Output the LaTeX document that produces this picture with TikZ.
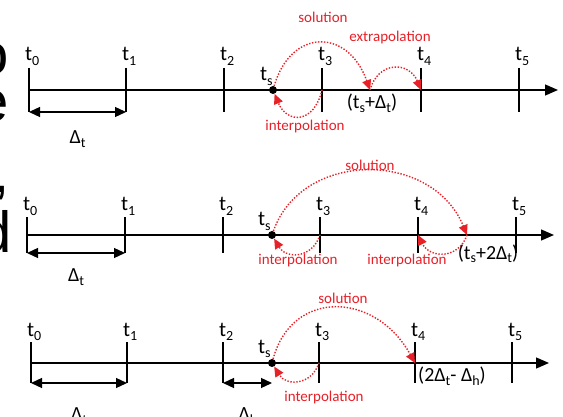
\documentclass[tikz,border=0pt]{standalone}
\usepackage{fontspec}
\setmainfont{Carlito}
\newfontfamily\bigsans{Liberation Sans}
\usetikzlibrary{arrows.meta,calc}
\definecolor{rd}{RGB}{232,32,40}
\newcommand\subx[1]{\raisebox{-0.2em}{\fontsize{14}{14}\selectfont #1}}
\begin{document}
\begin{tikzpicture}[x=1pt,y=-1pt,
  axis/.style={line width=1.3pt,-{Triangle[length=13pt,width=11pt]}},
  tickln/.style={line width=1.3pt},
  dim/.style={line width=1.3pt,{Triangle[length=11pt,width=10pt]}-{Triangle[length=11pt,width=10pt]}},
  tlbl/.style={font=\fontsize{21}{24}\selectfont, inner sep=0, anchor=base west},
  blbl/.style={font=\fontsize{20}{24}\selectfont, inner sep=0, anchor=base},
  rlbl/.style={font=\fontsize{15}{18}\selectfont, text=rd, inner sep=0},
  rarc/.style={rd, line width=1.4pt, dash pattern=on 1.4pt off 1.6pt, -{Triangle[length=10pt,width=9pt]}},
  tsdot/.style={circle, fill=black, inner sep=0, minimum size=8pt},
  frag/.style={font=\bigsans\fontsize{58}{58}\selectfont, inner sep=0, anchor=base east,
    text height=0.55em, text depth=0pt}]
\useasboundingbox (0,0) rectangle (563,417);
\clip (0,0) rectangle (563,417);
\fill[white] (0,0) rectangle (563,417);

% slide fragments at left edge
\node[frag] (fo) at (9,75) {o};
\node[frag] (fe) at (9,122) {e};
\node[frag, text height=0.12em] (fc) at (10,193) {,};
\node[frag, text height=0.72em] (fd) at (12,253) {d};

% ---------------- Panel 1 ----------------
\foreach \n/\x in {0/29,1/126,2/224,3/322,4/421,5/519} {
  \coordinate (p1t\n) at (\x,90);
  \coordinate (p1t\n u) at (\x,68);
  \coordinate (p1t\n d) at (\x,112);
  \draw[tickln] (p1t\n u) -- (p1t\n d);
  \node[tlbl] (p1l\n) at ($(p1t\n u)+(-4,-7)$) {t\subx{\n}};
}
\coordinate (p1e) at (558,90);
\draw[axis] (p1t0) -- (p1e);
\node[tsdot] (p1ts) at (273,90) {};
\node[tlbl] (p1tsl) at ($(p1ts)+(-13,-9)$) {t\subx{s}};
\draw[dim] (p1t0d) -- (p1t1d);
\node[blbl] (p1dt) at (77.5,144) {Δ\subx{t}};
\coordinate (p1x) at (370,90);
\draw[rarc] (p1ts) .. controls ($(p1ts)+(18,-62)$) and ($(p1x)+(-22,-62)$) .. (p1x);
\draw[rarc] (p1x) .. controls ($(p1x)+(8,-29)$) and ($(p1t4)+(-12,-29)$) .. (p1t4);
\draw[rarc] (p1t3) .. controls ($(p1t3)+(-8,34)$) and ($(p1ts)+(14,34)$) .. (p1ts);
\node[rlbl] (p1sol) at (323,17) {solution};
\node[rlbl] (p1ext) at (390,38) {extrapolation};
\node[rlbl] (p1int) at (305,127) {interpolation};
\node[blbl] (p1xl) at (372,109) {(t\subx{s}+Δ\subx{t})};

% ---------------- Panel 2 ----------------
\foreach \n/\x in {0/27,1/125,2/223,3/320,4/418,5/516} {
  \coordinate (p2t\n) at (\x,235);
  \coordinate (p2t\n u) at (\x,217);
  \coordinate (p2t\n d) at (\x,253);
  \draw[tickln] (p2t\n u) -- (p2t\n d);
  \node[tlbl] (p2l\n) at ($(p2t\n u)+(-4,-6)$) {t\subx{\n}};
}
\coordinate (p2e) at (554,235);
\draw[axis] (p2t0) -- (p2e);
\node[tsdot] (p2ts) at (272,235) {};
\node[tlbl] (p2tsl) at ($(p2ts)+(-14,-9)$) {t\subx{s}};
\draw[dim] (p2t0d) -- (p2t1d);
\node[blbl] (p2dt) at (76,282) {Δ\subx{t}};
\coordinate (p2x) at (467,235);
\draw[rarc] (p2ts) .. controls ($(p2ts)+(30,-85)$) and ($(p2x)+(-35,-85)$) .. (p2x);
\draw[rarc] (p2t3) .. controls ($(p2t3)+(-8,24)$) and ($(p2ts)+(14,24)$) .. (p2ts);
\draw[rarc] (p2x) .. controls ($(p2x)+(-8,24)$) and ($(p2t4)+(12,24)$) .. (p2t4);
\node[rlbl] (p2sol) at (370,165) {solution};
\node[rlbl] (p2int1) at (298,261) {interpolation};
\node[rlbl] (p2int2) at (407,261) {interpolation};
\node[blbl] (p2xl) at (488,259) {(t\subx{s}+2Δ\subx{t})};

% ---------------- Panel 3 ----------------
\foreach \n/\x in {0/31,1/127,2/223,3/319,4/415,5/512} {
  \coordinate (p3t\n) at (\x,363);
  \coordinate (p3t\n u) at (\x,342);
  \coordinate (p3t\n d) at (\x,383);
  \draw[tickln] (p3t\n u) -- (p3t\n d);
  \node[tlbl] (p3l\n) at ($(p3t\n u)+(-4,-6)$) {t\subx{\n}};
}
\coordinate (p3e) at (549,363);
\draw[axis] (p3t0) -- (p3e);
\node[tsdot] (p3ts) at (272,363) {};
\node[tlbl] (p3tsl) at ($(p3ts)+(-14,-10)$) {t\subx{s}};
\coordinate (p3hd) at (272,383);
\draw[dim] (p3t0d) -- (p3t1d);
\draw[dim] (p3t2d) -- (p3hd);
\node[blbl] (p3dt) at (79,420) {Δ\subx{t}};
\node[blbl] (p3dh) at (248,420) {Δ\subx{h}};
\draw[rarc] (p3ts) .. controls ($(p3ts)+(20,-74)$) and ($(p3t4)+(-40,-72)$) .. (p3t4);
\draw[rarc] (p3t3) .. controls ($(p3t3)+(-8,23)$) and ($(p3ts)+(14,23)$) .. (p3ts);
\node[rlbl] (p3sol) at (343,298) {solution};
\node[rlbl] (p3int) at (324,398) {interpolation};
\node[blbl] (p3xl) at (452,381) {(2Δ\subx{t}- Δ\subx{h})};
\end{tikzpicture}
\end{document}
